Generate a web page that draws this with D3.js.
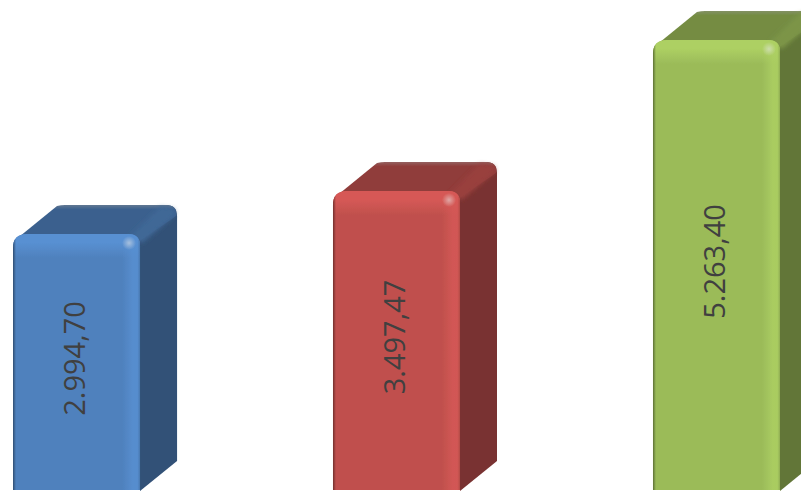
<!DOCTYPE html>
<html><head><meta charset="utf-8">
<style>html,body{margin:0;padding:0;background:#fff;overflow:hidden}svg{display:block}</style>
<script src="https://cdnjs.cloudflare.com/ajax/libs/d3/7.8.5/d3.min.js"></script>
</head><body><div id="c"></div>
<script>
const categories = ["A", "B", "C"];
const values = [2994.70, 3497.47, 5263.40];
const labels = ["2.994,70", "3.497,47", "5.263,40"];
const colors = ["#4f81bd", "#c0504d", "#9bbb59"];

const W = 801, H = 491, dx = 37, dy = -29, r = 11, backLeft = 49;
const x = d3.scaleBand().domain(categories).range([13, 780]).paddingInner(0.603).paddingOuter(0);
const y = d3.scaleLinear().domain([0, 5263.4]).range([490, 40]);
const svg = d3.select("#c").append("svg").attr("width", W).attr("height", H);
const defs = svg.append("defs");
defs.append("filter").attr("id", "soft").append("feGaussianBlur").attr("stdDeviation", 0.6);
defs.append("filter").attr("id", "soft2").attr("x", "-30%").attr("y", "-30%").attr("width", "160%").attr("height", "160%")
  .append("feGaussianBlur").attr("stdDeviation", 2);

const mix = (a, b, t) => d3.interpolateRgb(a, b)(t);
function grad(id, dir, stops) {
  const g = defs.append("linearGradient").attr("id", id)
    .attr("x1", 0).attr("y1", 0).attr("x2", dir === "h" ? 1 : 0).attr("y2", dir === "h" ? 0 : 1);
  stops.forEach(s => g.append("stop").attr("offset", s[0]).attr("stop-color", s[1]).attr("stop-opacity", s[2] === undefined ? 1 : s[2]));
}

categories.forEach((c, i) => {
  const base = colors[i], X = x(c), w = x.bandwidth(), T = y(values[i]), B = y(0), R = X + w;
  const topC = d3.color(mix(base, "#000", 0.25)).formatHex();
  const sideC = d3.color(mix(base, "#000", 0.37)).formatHex();
  const light = d3.color(base).brighter(0.3).formatHex();
  const g = svg.append("g").attr("class", "bar");

  grad("lv" + i, "v", [[0, light], [0.35, light], [1, light, 0]]);
  grad("lh" + i, "h", [[0, light, 0], [0.6, light, 0.8], [0.85, light, 0.8], [1, mix(base, "#000", 0.08)]]);
  grad("ll" + i, "h", [[0, mix(base, "#000", 0.4)], [1, mix(base, "#000", 0.4), 0]]);
  grad("tb" + i, "v", [[0, mix(topC, "#999", 0.4)], [0.12, topC]]);
  const gl = defs.append("radialGradient").attr("id", "gl" + i);
  gl.append("stop").attr("offset", 0).attr("stop-color", mix(base, "#fff", 0.5));
  gl.append("stop").attr("offset", 1).attr("stop-color", mix(base, "#fff", 0.5)).attr("stop-opacity", 0);

  const soft = g.append("g").attr("filter", "url(#soft)");
  // side face
  soft.append("path").attr("fill", sideC)
    .attr("d", `M${R - 4},${T + 4}L${R + dx - r},${T + dy}Q${R + dx},${T + dy} ${R + dx},${T + dy + r}L${R + dx},${B + dy}L${R},${B + 1}Z`);
  // top face: the left edge runs from the rounded front corner to the back corner
  soft.append("path").attr("fill", `url(#tb${i})`)
    .attr("d", `M${X + 1},${T + 7}L${X + backLeft - 5},${T + dy + 1}Q${X + backLeft - 1},${T + dy} ${X + backLeft + 3},${T + dy}L${R + dx - r},${T + dy}Q${R + dx},${T + dy} ${R + dx - 1},${T + dy + r}L${R - 2},${T + 8}Z`);
  // lighter bevel along the slanted top-right edge
  soft.append("path").attr("fill", mix(topC, base, 0.18)).attr("filter", "url(#soft2)")
    .attr("d", `M${R - 10},${T + 2}L${R + dx - 17},${T + dy + 2}L${R + dx - 3},${T + dy + 4}L${R + dx - 2},${T + dy + 10}L${R + 2},${T + 9}Z`);
  // front face
  const frontD = `M${X},${B}L${X},${T + 14}Q${X},${T} ${X + 14},${T}L${R - 12},${T}Q${R},${T} ${R},${T + 12}L${R},${B}Z`;
  soft.append("path").attr("fill", base).attr("d", frontD);
  defs.append("clipPath").attr("id", "cf" + i).append("path").attr("d", frontD);
  const f = soft.append("g").attr("clip-path", `url(#cf${i})`);
  f.append("rect").attr("x", X).attr("y", T).attr("width", w).attr("height", 24).attr("fill", `url(#lv${i})`);
  f.append("rect").attr("x", R - 18).attr("y", T).attr("width", 18).attr("height", B - T).attr("fill", `url(#lh${i})`);
  f.append("rect").attr("x", X).attr("y", T).attr("width", 3).attr("height", B - T).attr("fill", `url(#ll${i})`);
  f.append("circle").attr("cx", R - 11).attr("cy", T + 9).attr("r", 7).attr("fill", `url(#gl${i})`);

  g.append("text")
    .attr("transform", `translate(${X + w / 2 - 3},${(T + B) / 2 - 3.5}) rotate(-90)`)
    .attr("text-anchor", "middle").attr("dominant-baseline", "central")
    .attr("font-family", "'Open Sans', sans-serif").attr("font-size", 29)
    .attr("fill", "#404040").text(labels[i]);
});
</script></body></html>
